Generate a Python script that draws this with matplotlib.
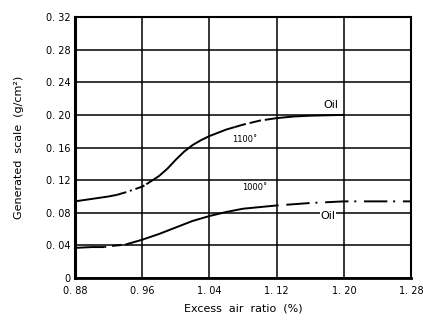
import matplotlib
matplotlib.use("Agg")
import matplotlib.pyplot as plt

# Data
x_1100 = [0.88, 0.90, 0.92, 0.93, 0.94, 0.96, 0.965, 0.98, 0.99, 1.00, 1.01, 1.02, 1.03, 1.04, 1.06, 1.07, 1.08, 1.10, 1.12, 1.14, 1.16, 1.20]
y_1100 = [0.094, 0.097, 0.100, 0.102, 0.105, 0.112, 0.115, 0.125, 0.134, 0.145, 0.155, 0.163, 0.169, 0.174, 0.182, 0.185, 0.188, 0.193, 0.196, 0.198, 0.199, 0.200]
x_1000 = [0.88, 0.90, 0.915, 0.92, 0.94, 0.96, 0.98, 1.00, 1.02, 1.04, 1.06, 1.08, 1.10, 1.12, 1.16, 1.20, 1.24, 1.28]
y_1000 = [0.037, 0.038, 0.038, 0.039, 0.041, 0.047, 0.054, 0.062, 0.070, 0.076, 0.081, 0.085, 0.087, 0.089, 0.092, 0.094, 0.094, 0.094]

x_ticks = [0.88, 0.96, 1.04, 1.12, 1.20, 1.28]
x_ticklabels = ["0. 88", "0. 96", "1. 04", "1. 12", "1. 20", "1. 28"]
y_ticks = [0, 0.04, 0.08, 0.12, 0.16, 0.20, 0.24, 0.28, 0.32]
y_ticklabels = ["0", "0. 04", "0. 08", "0. 12", "0. 16", "0. 20", "0. 24", "0. 28", "0. 32"]

# (start index, end index, linestyle) segments
seg_1100 = [(0, 3, '-'), (3, 6, (0, (5, 2, 1, 2))), (6, 15, '-'), (15, 18, (0, (6, 2))), (18, 21, '-')]
seg_1000 = [(0, 2, '-'), (2, 4, (0, (1, 3, 5, 2))), (4, 13, '-'), (13, 17, (0, (1, 4, 12, 3)))]

fig = plt.figure(figsize=(4.23, 3.2), dpi=100)
ax = fig.add_axes([0.177, 0.131, 0.795, 0.816])
ax.set_xlim(0.88, 1.28)
ax.set_ylim(0, 0.32)
ax.set_xticks(x_ticks)
ax.set_xticklabels(x_ticklabels, fontsize=7)
ax.set_yticks(y_ticks)
ax.set_yticklabels(y_ticklabels, fontsize=7)
ax.tick_params(axis='y', length=0, pad=3)
ax.tick_params(axis='x', length=0, pad=6)
ax.grid(True, color='black', linewidth=1.1)
ax.set_axisbelow(True)
for s in ax.spines.values():
    s.set_linewidth(1.5)
ax.spines['left'].set_linewidth(2.2)
ax.spines['bottom'].set_linewidth(2.0)

for (xs, ys, segs) in [(x_1100, y_1100, seg_1100), (x_1000, y_1000, seg_1000)]:
    for a, b, ls in segs:
        ax.plot(xs[a:b + 1], ys[a:b + 1], color='black', linewidth=1.4, linestyle=ls,
                solid_capstyle='butt', zorder=3)

ax.text(1.184, 0.212, "Oil", fontsize=8, ha='center', va='center')
ax.text(1.082, 0.170, "1100˚", fontsize=6, ha='center', va='center')
ax.text(1.094, 0.111, "1000˚", fontsize=6, ha='center', va='center')
ax.text(1.181, 0.076, "Oil", fontsize=8, ha='center', va='center',
        bbox=dict(facecolor='white', edgecolor='none', pad=0.5), zorder=4)

ax.set_xlabel("Excess  air  ratio  (%)", fontsize=8, labelpad=5)
ax.set_ylabel("Generated  scale  (g/cm²)", fontsize=8, labelpad=16)

fig.savefig("out.png", dpi=100)
